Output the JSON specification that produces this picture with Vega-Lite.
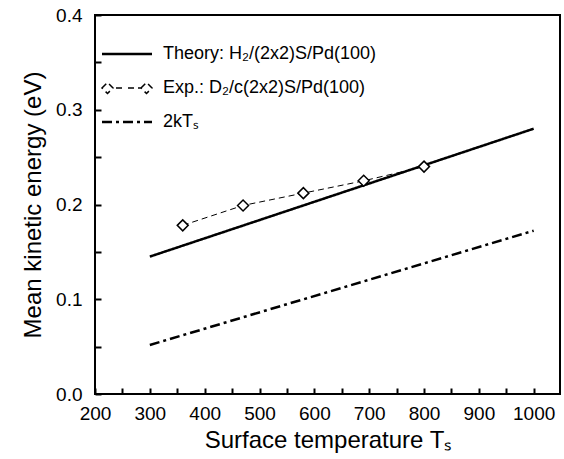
{
  "$schema": "https://vega.github.io/schema/vega-lite/v6.json",
  "width": 465,
  "height": 379,
  "autosize": {"type": "none"},
  "padding": {"left": 95, "top": 15, "right": 4, "bottom": 65},
  "background": "white",
  "datasets": {
    "lines": [
      {"T": 300, "E": 0.145, "s": "Theory: H₂/(2x2)S/Pd(100)"},
      {"T": 1000, "E": 0.280, "s": "Theory: H₂/(2x2)S/Pd(100)"},
      {"T": 300, "E": 0.0517, "s": "2kTₛ"},
      {"T": 1000, "E": 0.1723, "s": "2kTₛ"}
    ],
    "exp": [
      {"T": 360, "E": 0.178, "s": "Exp.: D₂/c(2x2)S/Pd(100)"},
      {"T": 470, "E": 0.199, "s": "Exp.: D₂/c(2x2)S/Pd(100)"},
      {"T": 580, "E": 0.212, "s": "Exp.: D₂/c(2x2)S/Pd(100)"},
      {"T": 690, "E": 0.225, "s": "Exp.: D₂/c(2x2)S/Pd(100)"},
      {"T": 800, "E": 0.240, "s": "Exp.: D₂/c(2x2)S/Pd(100)"}
    ]
  },
  "encoding": {
    "x": {"field": "T", "type": "quantitative",
      "scale": {"domain": [200, 1048], "nice": false, "zero": false},
      "axis": {"orient": "bottom",
        "values": [200, 250, 300, 350, 400, 450, 500, 550, 600, 650, 700, 750, 800, 850, 900, 950, 1000],
        "labelExpr": "datum.value % 100 === 0 ? format(datum.value, 'd') : ''",
        "labelFlush": false, "tickSize": -6, "labelPadding": 16,
        "title": "Surface temperature Tₛ", "titlePadding": 5,
        "encode": {"ticks": {"update": {"y2": {"signal": "datum.value % 100 === 0 ? -6 : -4"}}}}}},
    "y": {"field": "E", "type": "quantitative",
      "scale": {"domain": [0, 0.4], "nice": false, "zero": false},
      "axis": {"orient": "left",
        "values": [0, 0.05, 0.1, 0.15, 0.2, 0.25, 0.3, 0.35, 0.4],
        "labelExpr": "round(datum.value * 100) % 10 === 0 ? format(datum.value, '.1f') : ''",
        "labelFlush": false, "tickSize": -6, "labelPadding": 19,
        "title": "Mean kinetic energy (eV)", "titlePadding": 10,
        "encode": {"ticks": {"update": {"x2": {"signal": "round(datum.value * 100) % 10 === 0 ? 6 : 4"}}}}}}
  },
  "layer": [
    {
      "data": {"name": "lines"},
      "mark": {"type": "line", "color": "black", "strokeWidth": 2.5},
      "encoding": {
        "strokeDash": {"field": "s", "type": "nominal",
          "scale": {"domain": ["Theory: H₂/(2x2)S/Pd(100)", "Exp.: D₂/c(2x2)S/Pd(100)", "2kTₛ"], "range": [[1, 0], [6, 4], [10, 4, 3, 4]]},
          "legend": {
            "orient": "none", "legendX": 23, "legendY": 30, "title": null,
            "symbolType": "stroke", "symbolSize": 2500, "symbolStrokeWidth": 2.5,
            "symbolStrokeColor": "black",
            "labelFontSize": 18, "labelFont": "Liberation Sans", "labelColor": "black",
            "labelLimit": 0,
            "labelOffset": 27, "rowPadding": 16, "padding": 0,
            "encode": {
              "symbols": {
                "update": {
                  "shape": {"signal": "datum.index === 1 ? 'M-1,0L-0.78,-0.22L-0.56,0L-0.78,0.22Z M-0.44,0L-0.16,0 M0.04,0L0.56,0 M0.56,0L0.78,-0.22L1,0L0.78,0.22Z' : 'stroke'"},
                  "strokeDash": {"signal": "datum.index === 2 ? [10,4,3,4] : [1,0]"},
                  "strokeWidth": {"signal": "datum.index === 1 ? 1.5 : 2.5"},
                  "stroke": {"value": "black"},
                  "fill": {"value": "white"},
                  "opacity": {"value": 1}
                }
              }
            }
          }}
      }
    },
    {
      "data": {"name": "exp"},
      "mark": {"type": "line", "color": "black", "strokeWidth": 1},
      "encoding": {
        "strokeDash": {"field": "s", "type": "nominal"}
      }
    },
    {
      "data": {"name": "exp"},
      "mark": {"type": "point", "shape": "diamond", "size": 121, "filled": true, "fill": "white", "stroke": "black", "strokeWidth": 1.5, "opacity": 1}
    }
  ],
  "config": {
    "view": {"stroke": "black", "strokeWidth": 2},
    "axis": {
      "grid": false, "domain": false,
      "tickColor": "black", "tickWidth": 2,
      "labelColor": "black", "labelFont": "Liberation Sans", "labelFontSize": 19,
      "titleFont": "Liberation Sans", "titleFontSize": 24, "titleFontWeight": "normal", "titleColor": "black"
    }
  }
}
